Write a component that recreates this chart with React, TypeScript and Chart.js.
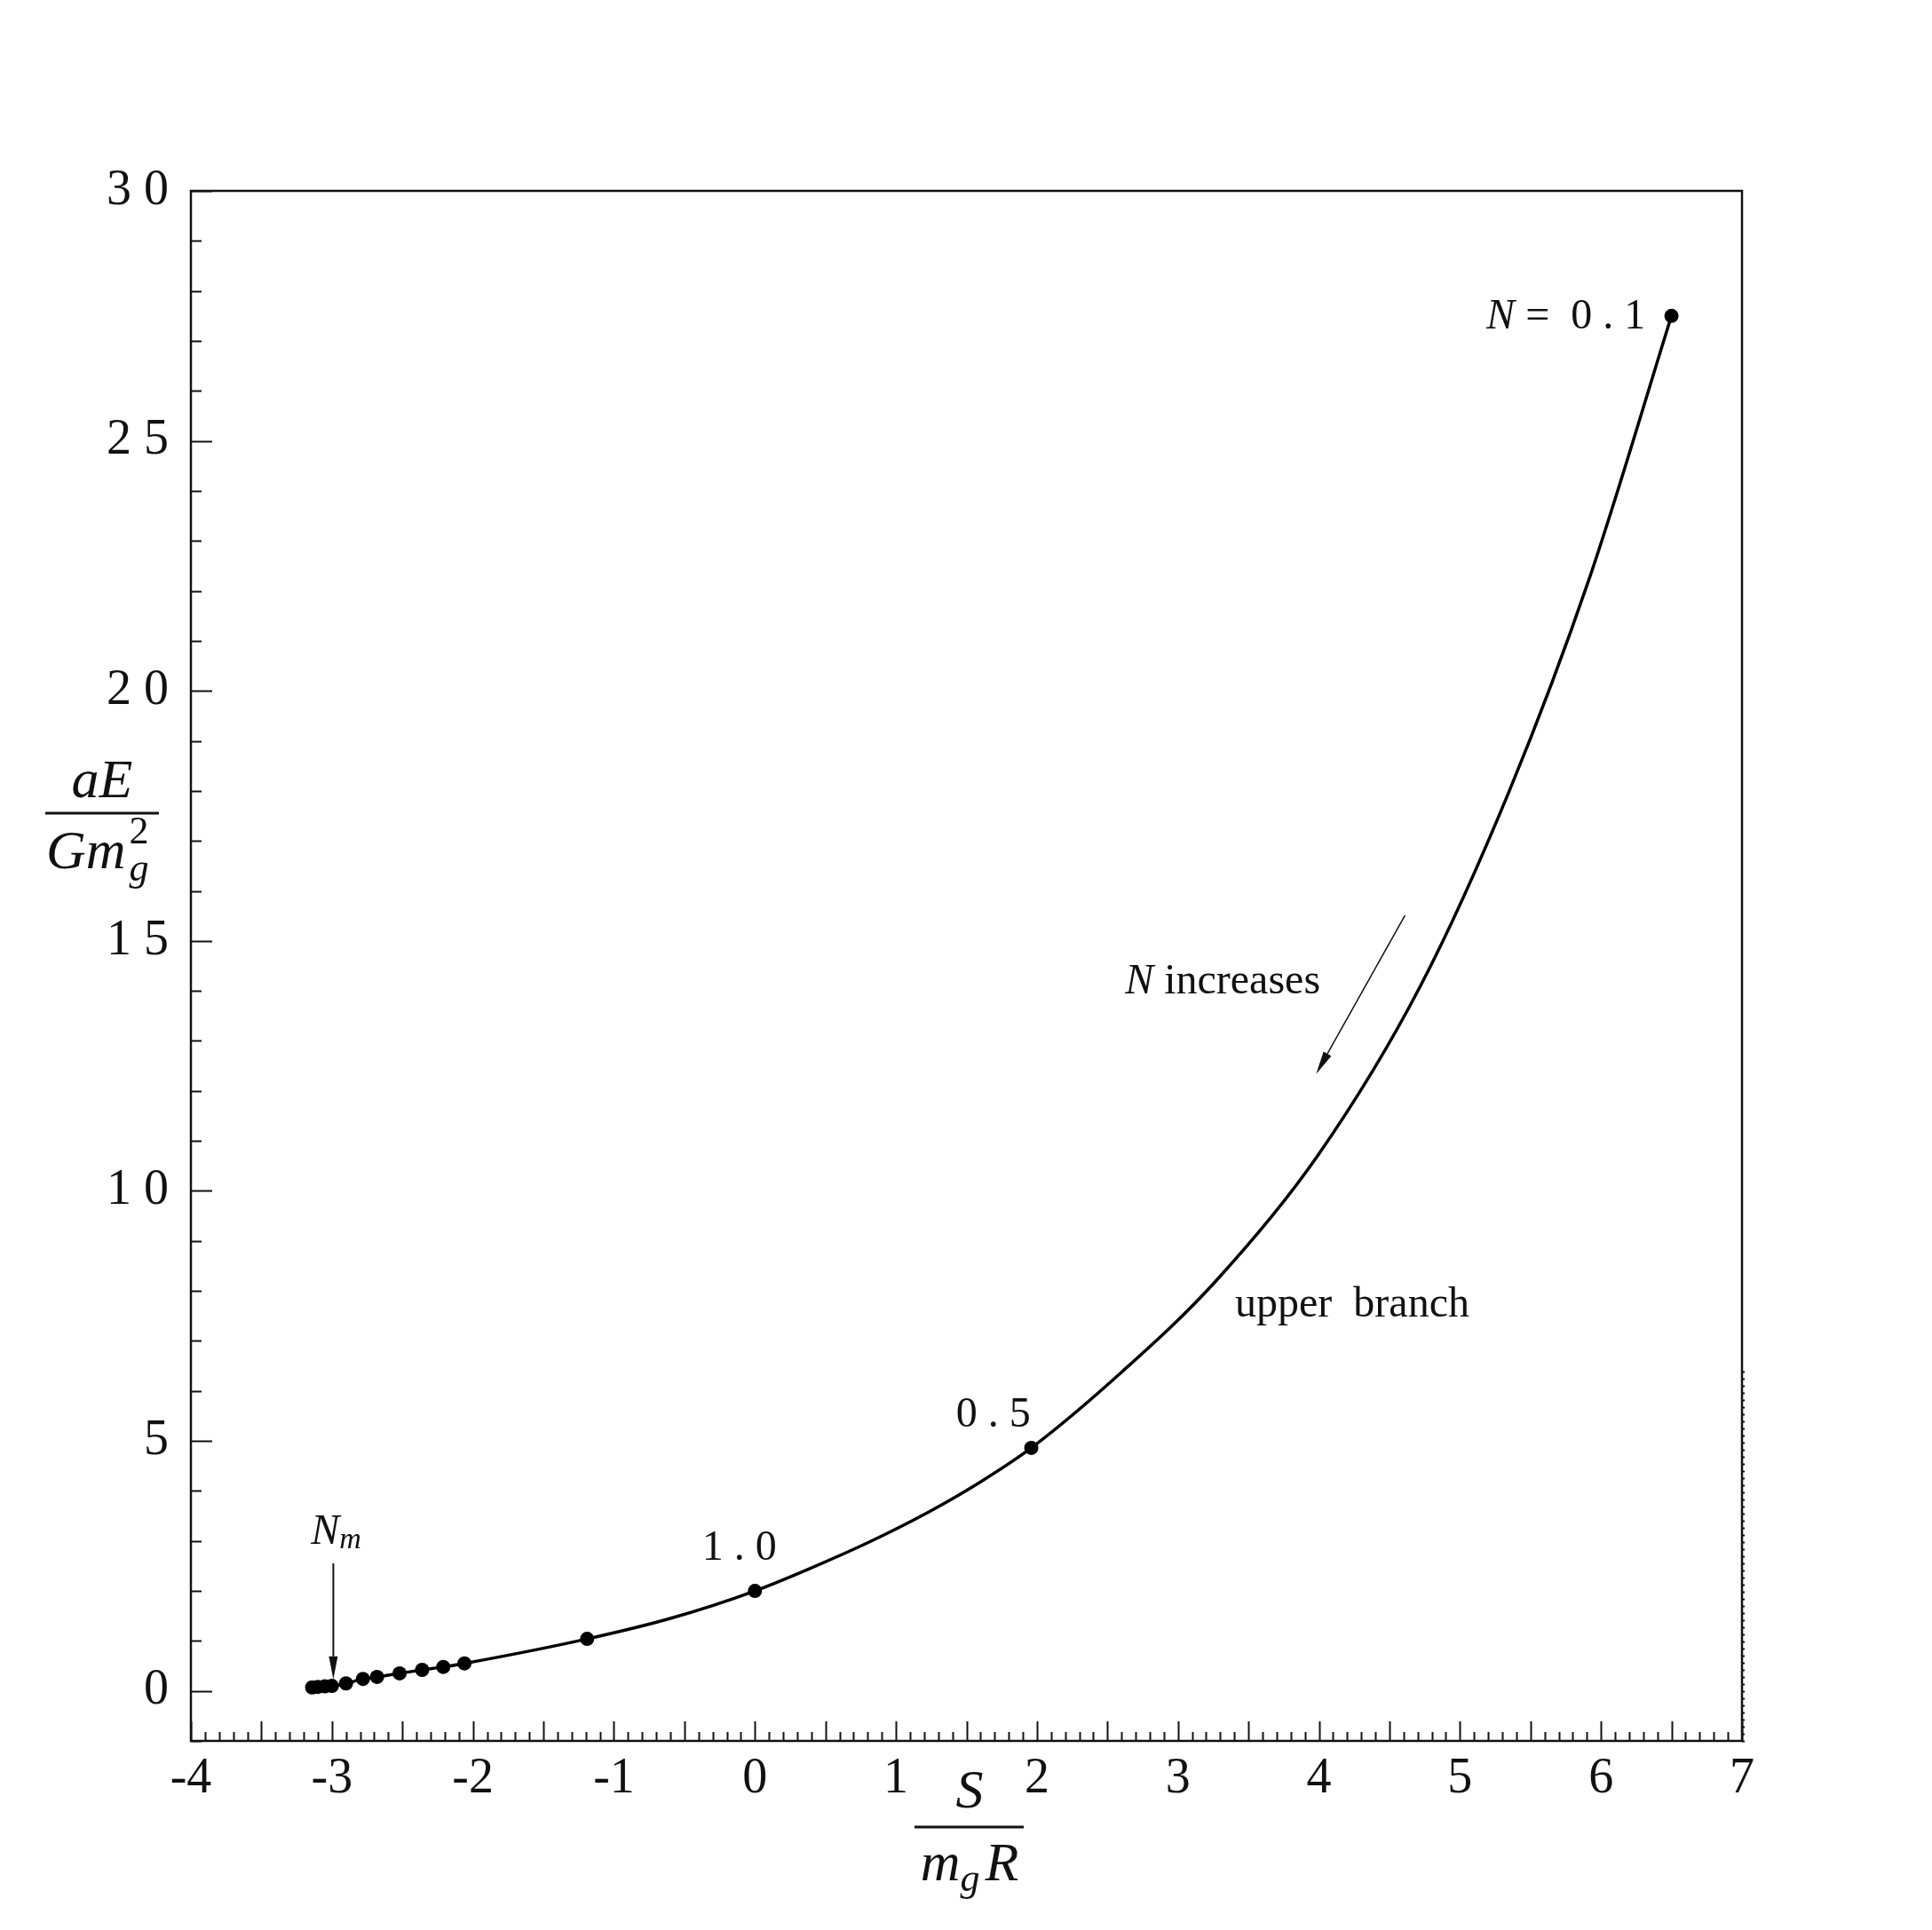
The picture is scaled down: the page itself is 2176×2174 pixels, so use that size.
import React, { useEffect, useRef } from 'react';
import { Chart, registerables } from 'chart.js';

Chart.register(...registerables);

// Curve (upper branch): S/(m_g R) vs aE/(G m_g^2)
const curveS = [-3.14, -3.1, -3.05, -3.0, -2.9, -2.78, -2.68, -2.52, -2.36, -2.21, -2.06, -1.19, -0.6, 0, 0.4, 0.82, 1.24, 1.6, 1.96, 2.61, 3.26, 3.99, 4.72, 5.35, 5.92, 6.5];
const curveE = [0.07, 0.08, 0.09, 0.1, 0.15, 0.24, 0.28, 0.35, 0.42, 0.48, 0.55, 1.04, 1.45, 2.0, 2.46, 2.99, 3.59, 4.18, 4.86, 6.4, 8.17, 10.7, 14.1, 18.0, 22.27, 27.5];

// Marked points
const markS = [-3.14, -3.1, -3.05, -3.0, -2.9, -2.78, -2.68, -2.52, -2.36, -2.21, -2.06, -1.19, 0, 1.96, 6.5];
const markE = [0.07, 0.08, 0.09, 0.1, 0.15, 0.24, 0.28, 0.35, 0.42, 0.48, 0.55, 1.04, 2.0, 4.86, 27.5];

const xTickValues = [-4, -3, -2, -1, 0, 1, 2, 3, 4, 5, 6, 7];
const yTickValues = [0, 5, 10, 15, 20, 25, 30];

// Annotation anchors (data coordinates)
const labelN01 = { s: 6.315, e: 27.48 };
const label05 = { s: 1.69, e: 5.51 };
const label10 = { s: -0.11, e: 2.85 };
const labelNm = { s: -2.97, e: 3.17 };
const arrowNm = { s: -2.99, eFrom: 2.55, eTo: 0.23 };
const labelInc = { s: 2.625, e: 14.18 };
const arrowInc = { sFrom: 4.61, eFrom: 15.51, sTo: 3.98, eTo: 12.34 };
const labelUpper = { s: 3.405, e: 7.71 };

const SERIF = '"Liberation Serif", "DejaVu Serif", serif';
const INK = '#111';

type Run = { t: string; f: string; dy?: number; dx?: number };

function drawRuns(ctx: CanvasRenderingContext2D, runs: Run[], x: number, y: number, align: 'left' | 'center' | 'right') {
  let total = 0;
  for (const r of runs) {
    ctx.font = r.f;
    total += ctx.measureText(r.t).width + (r.dx || 0);
  }
  let cx = align === 'left' ? x : align === 'center' ? x - total / 2 : x - total;
  ctx.textAlign = 'left';
  for (const r of runs) {
    ctx.font = r.f;
    ctx.fillText(r.t, cx, y + (r.dy || 0));
    cx += ctx.measureText(r.t).width + (r.dx || 0);
  }
}

function arrow(ctx: CanvasRenderingContext2D, x1: number, y1: number, x2: number, y2: number, lw: number, headLen: number, headHalf: number) {
  const ang = Math.atan2(y2 - y1, x2 - x1);
  const bx = x2 - headLen * Math.cos(ang);
  const by = y2 - headLen * Math.sin(ang);
  ctx.lineWidth = lw;
  ctx.beginPath();
  ctx.moveTo(x1, y1);
  ctx.lineTo(bx, by);
  ctx.stroke();
  ctx.beginPath();
  ctx.moveTo(x2, y2);
  ctx.lineTo(bx + headHalf * Math.sin(ang), by - headHalf * Math.cos(ang));
  ctx.lineTo(bx - headHalf * Math.sin(ang), by + headHalf * Math.cos(ang));
  ctx.closePath();
  ctx.fill();
}

const framePlugin = {
  id: 'frameTicks',
  beforeDatasetsDraw(chart: any) {
    const { ctx, chartArea: a, scales } = chart;
    const x = scales.x;
    const y = scales.y;
    ctx.save();
    ctx.strokeStyle = INK;
    ctx.lineCap = 'butt';
    // x ticks (inward), every 0.1, longer every 0.5
    ctx.lineWidth = 2;
    for (let i = -40; i <= 70; i++) {
      const px = Math.round(x.getPixelForValue(i / 10)) + 0.5;
      const len = i % 5 === 0 ? 22 : 10;
      ctx.beginPath();
      ctx.moveTo(px, a.bottom);
      ctx.lineTo(px, a.bottom - len);
      ctx.stroke();
    }
    // left y ticks, every 1, longer every 5
    for (let v = -1; v <= 30; v++) {
      const py = Math.round(y.getPixelForValue(v)) + 0.5;
      const len = v % 5 === 0 ? 24 : 12;
      ctx.beginPath();
      ctx.moveTo(a.left, py);
      ctx.lineTo(a.left + len, py);
      ctx.stroke();
    }
    // dense right-edge ticks near bottom
    ctx.lineWidth = 2;
    for (let k = 0; k <= 52; k++) {
      const py = Math.round(y.getPixelForValue(-1 + k * 0.142)) + 0.5;
      ctx.beginPath();
      ctx.moveTo(a.right, py);
      ctx.lineTo(a.right + 3, py);
      ctx.stroke();
    }
    // frame
    ctx.lineWidth = 2.5;
    ctx.strokeRect(a.left, a.top, a.right - a.left, a.bottom - a.top);
    ctx.restore();
  },
  afterDatasetsDraw(chart: any) {
    const { ctx, scales } = chart;
    const x = scales.x;
    const y = scales.y;
    const X = (v: number) => x.getPixelForValue(v);
    const Y = (v: number) => y.getPixelForValue(v);
    ctx.save();
    ctx.fillStyle = INK;
    ctx.strokeStyle = INK;
    ctx.textBaseline = 'middle';
    const it = `italic 48px ${SERIF}`;
    const rm = `48px ${SERIF}`;
    drawRuns(ctx, [{ t: 'N', f: it }, { t: ' =  0 . 1', f: rm }], X(labelN01.s), Y(labelN01.e), 'right');
    drawRuns(ctx, [{ t: '0 . 5', f: rm }], X(label05.s), Y(label05.e), 'center');
    drawRuns(ctx, [{ t: '1 . 0', f: rm }], X(label10.s), Y(label10.e), 'center');
    drawRuns(ctx, [{ t: 'N', f: it }, { t: 'm', f: `italic 34px ${SERIF}`, dy: 9 }], X(labelNm.s), Y(labelNm.e), 'center');
    drawRuns(ctx, [{ t: 'N', f: it }, { t: ' increases', f: rm }], X(labelInc.s), Y(labelInc.e), 'left');
    drawRuns(ctx, [{ t: 'upper  branch', f: rm }], X(labelUpper.s), Y(labelUpper.e), 'left');
    arrow(ctx, X(arrowNm.s), Y(arrowNm.eFrom), X(arrowNm.s), Y(arrowNm.eTo), 2, 26, 5);
    arrow(ctx, X(arrowInc.sFrom), Y(arrowInc.eFrom), X(arrowInc.sTo), Y(arrowInc.eTo), 1.5, 26, 5);

    // Y axis title: aE / (G m_g^2)
    const ti = `italic 62px ${SERIF}`;
    ctx.textBaseline = 'alphabetic';
    drawRuns(ctx, [{ t: 'a', f: ti }, { t: 'E', f: ti }], 115, 898, 'center');
    ctx.lineWidth = 3;
    ctx.beginPath();
    ctx.moveTo(51, 916);
    ctx.lineTo(179, 916);
    ctx.stroke();
    ctx.font = ti;
    ctx.textAlign = 'left';
    ctx.fillText('Gm', 52, 978);
    const gmW = ctx.measureText('Gm').width;
    ctx.font = `44px ${SERIF}`;
    ctx.fillText('2', 52 + gmW + 4, 950);
    ctx.font = `italic 44px ${SERIF}`;
    ctx.fillText('g', 52 + gmW + 4, 992);

    // X axis title: S / (m_g R)
    ctx.font = ti;
    ctx.textAlign = 'center';
    ctx.fillText('S', 1092, 2036);
    ctx.beginPath();
    ctx.moveTo(1030, 2058);
    ctx.lineTo(1153, 2058);
    ctx.stroke();
    drawRuns(ctx, [
      { t: 'm', f: ti },
      { t: 'g', f: `italic 44px ${SERIF}`, dy: 12, dx: 6 },
      { t: 'R', f: ti },
    ], 1092, 2118, 'center');
    ctx.restore();
  },
};

export default function App() {
  const ref = useRef<HTMLCanvasElement | null>(null);
  useEffect(() => {
    if (!ref.current) return;
    const curve = curveS.map((s, i) => ({ x: s, y: curveE[i] }));
    const marks = markS.map((s, i) => ({ x: s, y: markE[i] }));
    const chart = new Chart(ref.current, {
      type: 'scatter',
      data: {
        datasets: [
          {
            data: curve,
            showLine: true,
            borderColor: '#000',
            borderWidth: 3.5,
            pointRadius: 0,
            cubicInterpolationMode: 'monotone',
          } as any,
          {
            data: marks,
            showLine: false,
            pointRadius: 8,
            pointBackgroundColor: '#000',
            pointBorderWidth: 0,
            backgroundColor: '#000',
          } as any,
        ],
      },
      options: {
        responsive: false,
        animation: false,
        devicePixelRatio: 1,
        layout: { padding: { left: 0, top: 215, right: 214, bottom: 0 } },
        plugins: { legend: { display: false }, tooltip: { enabled: false } },
        scales: {
          x: {
            type: 'linear',
            position: 'bottom',
            min: -4,
            max: 7,
            grid: { display: false, drawTicks: false },
            border: { display: false },
            afterBuildTicks: (s: any) => {
              s.ticks = xTickValues.map((v) => ({ value: v }));
            },
            ticks: {
              padding: 10,
              color: INK,
              font: { family: SERIF, size: 56 },
              callback: (v: any) => (Number(v) < 0 ? '-' + Math.abs(Number(v)) : String(v)),
            },
            afterFit: (s: any) => {
              s.height = 213;
            },
          },
          y: {
            type: 'linear',
            position: 'left',
            min: -1,
            max: 30,
            grid: { display: false, drawTicks: false },
            border: { display: false },
            afterBuildTicks: (s: any) => {
              s.ticks = yTickValues.map((v) => ({ value: v }));
            },
            ticks: {
              padding: 25,
              color: INK,
              font: { family: SERIF, size: 56 },
              callback: (v: any) => String(v).split('').join(' '),
            },
            afterFit: (s: any) => {
              s.width = 215;
            },
          },
        },
      },
      plugins: [framePlugin],
    });
    return () => chart.destroy();
  }, []);
  return (
    <div style={{ position: 'absolute', left: 0, top: 0, width: 2176, height: 2174, background: '#fff' }}>
      <canvas ref={ref} width={2176} height={2174} style={{ display: 'block' }} />
    </div>
  );
}
